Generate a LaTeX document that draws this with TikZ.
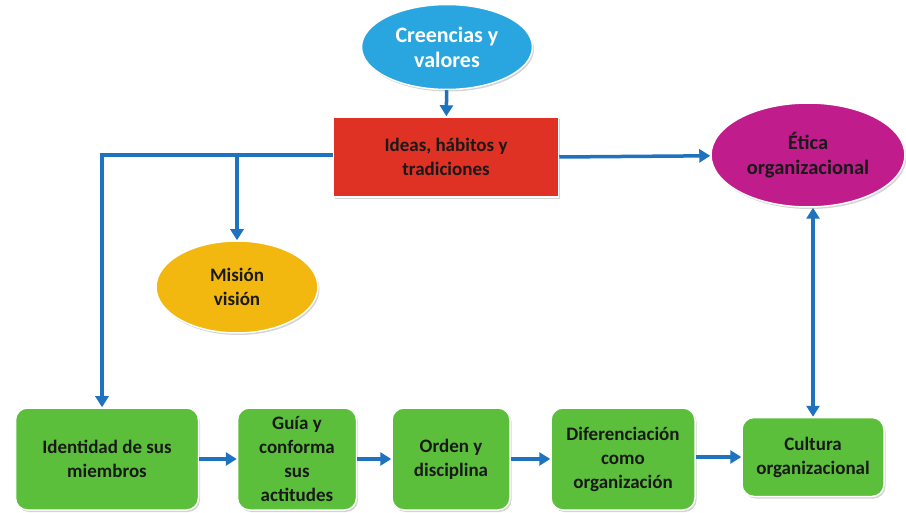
\documentclass[tikz,border=0pt]{standalone}
\usepackage{fontspec}
\setmainfont{Carlito}
\usetikzlibrary{arrows.meta,positioning,shapes.geometric,shadows}
\definecolor{Sky}{HTML}{29A6DF}
\definecolor{Brick}{HTML}{DF3225}
\definecolor{Plum}{HTML}{C01C8B}
\definecolor{Gold}{HTML}{F2B80F}
\definecolor{Leaf}{HTML}{5CBF3B}
\definecolor{Link}{HTML}{1F72BD}
\tikzset{
  box/.style={draw=white,line width=1.5pt,align=center,inner sep=0pt,
    font=\bfseries\fontsize{19}{24}\selectfont,text=black!90,
    drop shadow={opacity=.35,shadow xshift=1.5pt,shadow yshift=-2pt}},
  oval/.style={box,ellipse},
  stage/.style={box,fill=Leaf,rounded corners=12pt},
  link/.style={draw=Link,line width=3.5pt,-{Triangle[width=13pt,length=11pt]}}
}
\begin{document}
\begin{tikzpicture}[x=1pt,y=-1pt]
\useasboundingbox (0,0) rectangle (906,513);
% top: beliefs feed the red box
\node[oval,fill=Sky,text=white,minimum width=171,minimum height=85,font=\bfseries\fontsize{22}{25}\selectfont] (creencias) at (447,47) {Creencias y\\valores};
\node[box,fill=Brick,minimum width=225,minimum height=80] (ideas) at (446,157) {Ideas, hábitos y\\tradiciones};
\node[oval,fill=Gold,minimum width=162,minimum height=92] (mision) at (237,287) {Misión\\visión};
\node[oval,fill=Plum,minimum width=194,minimum height=104,font=\bfseries\fontsize{20.5}{25}\selectfont] (etica) at (808,155) {Ética\\organizacional};
% bottom row
\node[stage,minimum width=183,minimum height=102] (identidad) at (107,459) {Identidad de sus\\miembros};
\node[stage,minimum width=119,minimum height=102] (guia) at (297,459) {Guía y\\conforma\\sus\\actitudes};
\node[stage,minimum width=118,minimum height=102] (orden) at (451,459) {Orden y\\disciplina};
\node[stage,minimum width=144,minimum height=102] (diferencia) at (623,459) {Diferenciación\\como\\organización};
\node[stage,minimum width=142,minimum height=79] (cultura) at (813,457) {Cultura\\organizacional};
% connectors
\coordinate (corner) at (102,155);
\draw[link] (creencias) -- (ideas);
\draw[link] (ideas.west |- corner) -- (corner) -- (identidad.north -| corner);
\draw[link] (mision.north |- corner) -- (mision);
\draw[link] (ideas.east) -- (etica);
\draw[link,{Triangle[width=13pt,length=11pt]}-{Triangle[width=13pt,length=11pt]}] (cultura.north) -- (cultura.north |- etica.south);
\draw[link] (identidad) -- (guia);
\draw[link] (guia) -- (orden);
\draw[link] (orden) -- (diferencia);
\draw[link] (diferencia.east |- cultura) -- (cultura);
\end{tikzpicture}
\end{document}
